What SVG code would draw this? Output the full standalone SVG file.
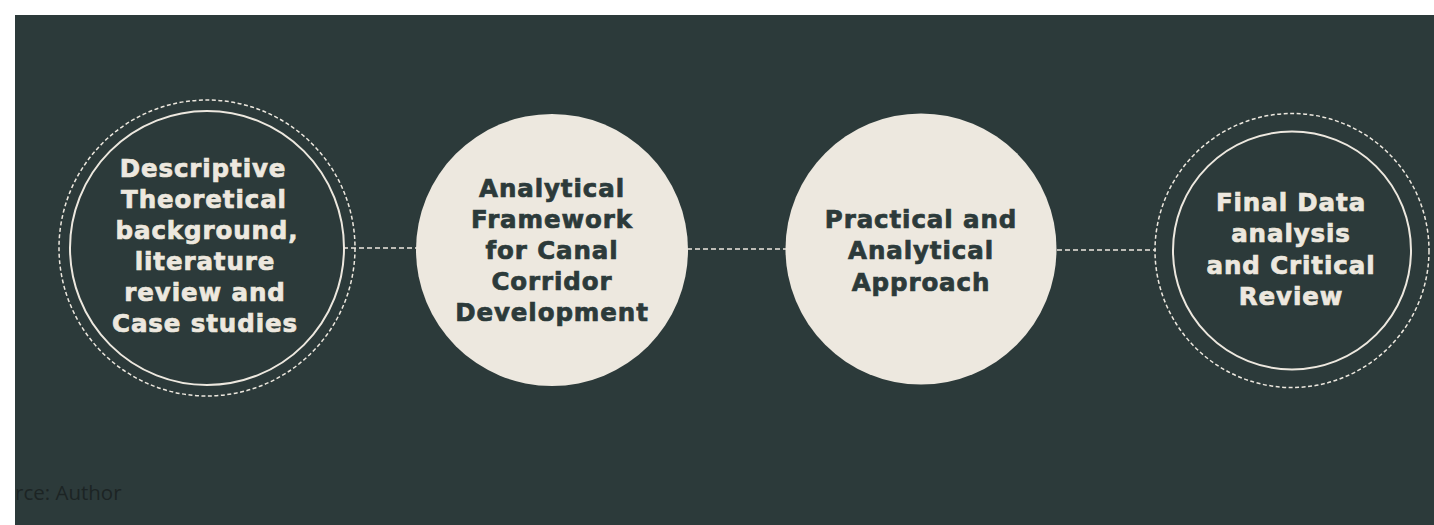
<svg xmlns="http://www.w3.org/2000/svg" width="1434" height="525" viewBox="0 0 1434 525">
<style>
.bg{fill:#2c3a3a}
.fill{fill:#ede8df}
.ring{fill:none;stroke:#ede8df;stroke-width:2}
.dring{fill:none;stroke:#ede8df;stroke-width:1.5;stroke-dasharray:4 2.5}
.conn{fill:none;stroke:#ede8df;stroke-width:1.5;stroke-dasharray:5 3}
.t{font-family:"DejaVu Sans",sans-serif;font-weight:bold;font-size:24.5px;letter-spacing:0.9px;text-anchor:middle;stroke-width:0.7}
.light{fill:#ede8df;stroke:#ede8df}
.dark{fill:#2c3a3a;stroke:#2c3a3a}
.src{font-family:"Open Sans",sans-serif;font-size:20.5px;fill:#1c2424}
</style>
<rect width="1434" height="525" fill="#ffffff"/>
<rect class="bg" x="15" y="15" width="1419" height="510"/>
<g id="connectors">
<line class="conn" x1="343" y1="248" x2="417" y2="248"/>
<line class="conn" x1="687" y1="249" x2="786" y2="249"/>
<line class="conn" x1="1057" y1="250" x2="1156" y2="250"/>
</g>
<g id="node1">
<circle class="dring" cx="207" cy="248" r="148"/>
<circle class="ring" cx="207" cy="248" r="137"/>
<text class="t light" x="203" y="177">Descriptive</text>
<text class="t light" x="204" y="208">Theoretical</text>
<text class="t light" x="207" y="239">background,</text>
<text class="t light" x="205" y="270">literature</text>
<text class="t light" x="205" y="301">review and</text>
<text class="t light" x="205" y="332">Case studies</text>
</g>
<g id="node2">
<circle class="fill" cx="552" cy="250" r="136"/>
<text class="t dark" x="552" y="197">Analytical</text>
<text class="t dark" x="552" y="228">Framework</text>
<text class="t dark" x="552" y="259">for Canal</text>
<text class="t dark" x="552" y="290">Corridor</text>
<text class="t dark" x="552" y="321">Development</text>
</g>
<g id="node3">
<circle class="fill" cx="921" cy="249" r="135.5"/>
<text class="t dark" x="921" y="228">Practical and</text>
<text class="t dark" x="921" y="259">Analytical</text>
<text class="t dark" x="921" y="291">Approach</text>
</g>
<g id="node4">
<circle class="dring" cx="1292" cy="250.5" r="137"/>
<circle class="ring" cx="1292" cy="250.5" r="119"/>
<text class="t light" x="1291" y="211">Final Data</text>
<text class="t light" x="1291" y="242">analysis</text>
<text class="t light" x="1291" y="274">and Critical</text>
<text class="t light" x="1291" y="305">Review</text>
</g>
<text class="src" x="15" y="500">rce: Author</text>
</svg>
